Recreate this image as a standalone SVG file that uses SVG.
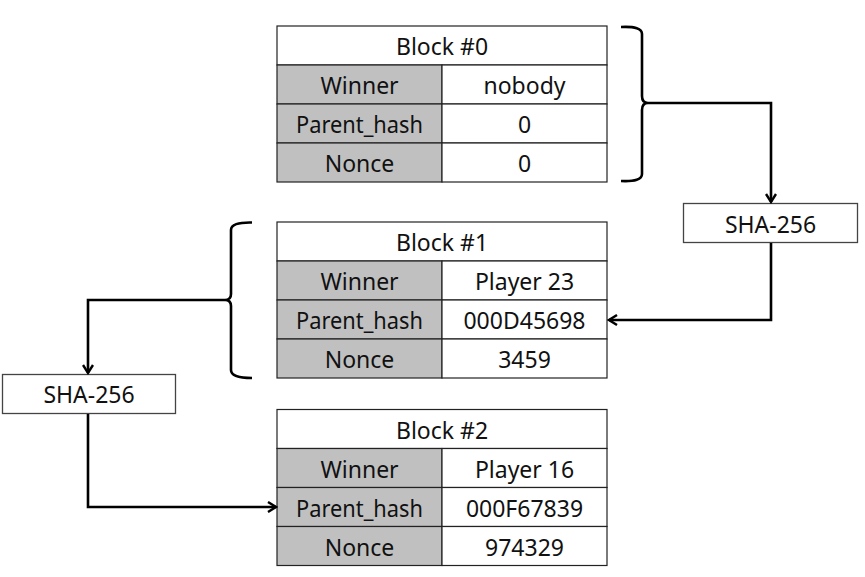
<svg xmlns="http://www.w3.org/2000/svg" width="865" height="577" viewBox="0 0 865 577">
<defs>
<style>
.cell{fill:#fff;stroke:#222;stroke-width:1.2}
.key{fill:#c0c0c0;stroke:#222;stroke-width:1.2}
.t{font-family:"Noto Sans","Open Sans","Liberation Sans",sans-serif;font-size:23px;fill:#111;text-anchor:middle;dominant-baseline:central}
.ln{fill:none;stroke:#000;stroke-width:2.6;stroke-linejoin:miter}
.box{fill:#fff;stroke:#444;stroke-width:1.3}
</style>
<marker id="ah" viewBox="0 0 12 12" refX="10" refY="6" markerWidth="12" markerHeight="12" markerUnits="userSpaceOnUse" orient="auto">
<path d="M2,1 L10,6 L2,11" fill="none" stroke="#000" stroke-width="2.4"/>
</marker>
</defs>
<rect width="865" height="577" fill="#fff"/>

<g id="block0">
<rect class="cell" x="277" y="26" width="330" height="39"/>
<rect class="key" x="277" y="65" width="165" height="39"/>
<rect class="cell" x="442" y="65" width="165" height="39"/>
<rect class="key" x="277" y="104" width="165" height="39"/>
<rect class="cell" x="442" y="104" width="165" height="39"/>
<rect class="key" x="277" y="143" width="165" height="39"/>
<rect class="cell" x="442" y="143" width="165" height="39"/>
<text class="t" x="442" y="46">Block #0</text>
<text class="t" x="359.5" y="85">Winner</text>
<text class="t" x="524.5" y="85">nobody</text>
<text class="t" x="359.5" y="124" textLength="127" lengthAdjust="spacingAndGlyphs">Parent_hash</text>
<text class="t" x="524.5" y="124">0</text>
<text class="t" x="359.5" y="163">Nonce</text>
<text class="t" x="524.5" y="163">0</text>
</g>

<g id="block1">
<rect class="cell" x="277" y="222" width="330" height="39"/>
<rect class="key" x="277" y="261" width="165" height="39"/>
<rect class="cell" x="442" y="261" width="165" height="39"/>
<rect class="key" x="277" y="300" width="165" height="39"/>
<rect class="cell" x="442" y="300" width="165" height="39"/>
<rect class="key" x="277" y="339" width="165" height="39"/>
<rect class="cell" x="442" y="339" width="165" height="39"/>
<text class="t" x="442" y="242">Block #1</text>
<text class="t" x="359.5" y="281">Winner</text>
<text class="t" x="524.5" y="281">Player 23</text>
<text class="t" x="359.5" y="320" textLength="127" lengthAdjust="spacingAndGlyphs">Parent_hash</text>
<text class="t" x="524.5" y="320">000D45698</text>
<text class="t" x="359.5" y="359">Nonce</text>
<text class="t" x="524.5" y="359">3459</text>
</g>

<g id="block2">
<rect class="cell" x="277" y="409.5" width="330" height="39"/>
<rect class="key" x="277" y="448.5" width="165" height="39"/>
<rect class="cell" x="442" y="448.5" width="165" height="39"/>
<rect class="key" x="277" y="487.5" width="165" height="39"/>
<rect class="cell" x="442" y="487.5" width="165" height="39"/>
<rect class="key" x="277" y="526.5" width="165" height="39"/>
<rect class="cell" x="442" y="526.5" width="165" height="39"/>
<text class="t" x="442" y="429.5">Block #2</text>
<text class="t" x="359.5" y="468.5">Winner</text>
<text class="t" x="524.5" y="468.5">Player 16</text>
<text class="t" x="359.5" y="507.5" textLength="127" lengthAdjust="spacingAndGlyphs">Parent_hash</text>
<text class="t" x="524.5" y="507.5">000F67839</text>
<text class="t" x="359.5" y="546.5">Nonce</text>
<text class="t" x="524.5" y="546.5">974329</text>
</g>

<g id="sha1">
<rect class="box" x="683.5" y="203.5" width="174" height="39"/>
<text class="t" x="770.5" y="223.5">SHA-256</text>
</g>

<g id="sha2">
<rect class="box" x="2.5" y="374.5" width="173" height="39"/>
<text class="t" x="89" y="394">SHA-256</text>
</g>

<g id="braces">
<path class="ln" d="M621,27 Q642,26 642,34 L642,96 Q642,103 648,103 Q642,103 642,110 L642,174 Q642,182 621,181"/>
<path class="ln" d="M252,222.5 Q231,222 231,230 L231,294 Q231,300 225,300 Q231,300 231,306 L231,370 Q231,378 252,378"/>
</g>

<g id="connectors">
<path class="ln" d="M648,103 L771,103 L771,202" marker-end="url(#ah)"/>
<path class="ln" d="M771,243 L771,320 L609,320" marker-end="url(#ah)"/>
<path class="ln" d="M225,300 L88,300 L88,373" marker-end="url(#ah)"/>
<path class="ln" d="M88,414 L88,507 L276,507" marker-end="url(#ah)"/>
</g>
</svg>
